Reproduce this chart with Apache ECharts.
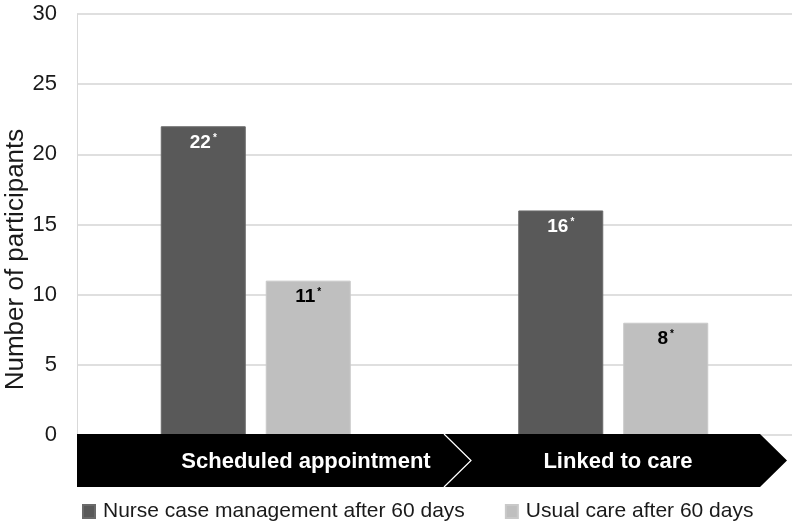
<!DOCTYPE html>
<html>
<head>
<meta charset="utf-8">
<script src="https://cdn.jsdelivr.net/npm/echarts@6/dist/echarts.min.js"></script>
<style>html,body{margin:0;padding:0;background:#fff;}#c{width:800px;height:528px;}</style>
</head>
<body>
<div id="c"></div>
<script>
const categories = ['Scheduled appointment', 'Linked to care'];
const seriesNames = ['Nurse case management after 60 days', 'Usual care after 60 days'];
const nurseValues = [22, 16];
const usualValues = [11, 8];
const yTicks = { min: 0, max: 30, interval: 5 };

const FONT = '"Liberation Sans", Arial, sans-serif';
const GRID = { left: 77, right: 8, top: 14, bottom: 93 };

const chart = echarts.init(document.getElementById('c'), null, { renderer: 'canvas' });

function labelCfg(color) {
  return {
    show: true,
    position: 'insideTop',
    distance: 7,
    formatter: '{v|{c}}{s|*}',
    rich: {
      v: { fontFamily: FONT, fontWeight: 'bold', fontSize: 19, color: color },
      s: { fontFamily: FONT, fontWeight: 'bold', fontSize: 10, color: color, verticalAlign: 'top', padding: [0, 0, 9, 2] }
    }
  };
}

chart.setOption({
  animation: false,
  textStyle: { fontFamily: FONT },
  grid: { left: GRID.left, right: GRID.right, top: GRID.top, bottom: GRID.bottom, containLabel: false, outerBoundsMode: 'none' },
  legend: {
    data: seriesNames,
    left: 77, top: 496,
    itemWidth: 12, itemHeight: 13, itemGap: 40,
    icon: 'rect',
    textStyle: { fontFamily: FONT, fontSize: 21, color: '#1a1a1a', padding: [0, 0, 0, 3] }
  },
  xAxis: {
    type: 'category',
    data: categories,
    axisLine: { show: false },
    axisTick: { show: false },
    axisLabel: { show: false }
  },
  yAxis: {
    type: 'value',
    min: yTicks.min, max: yTicks.max, interval: yTicks.interval,
    name: 'Number of participants',
    nameLocation: 'middle',
    nameGap: 48,
    nameMoveOverlap: false,
    nameTextStyle: { fontFamily: FONT, fontSize: 26, color: '#1a1a1a', padding: [0, 70, 0, 0] },
    axisLine: { show: true, lineStyle: { color: '#d9d9d9', width: 1 } },
    axisTick: { show: false },
    axisLabel: { fontFamily: FONT, fontSize: 22, color: '#1a1a1a', margin: 20 },
    splitLine: { lineStyle: { color: '#d4d4d4', width: 1.5 } }
  },
  series: [
    {
      name: seriesNames[0], type: 'bar', data: nurseValues,
      barWidth: 85, barGap: '23.5%',
      itemStyle: { color: '#595959', borderColor: '#6a6a6a', borderWidth: 1 },
      label: labelCfg('#ffffff')
    },
    {
      name: seriesNames[1], type: 'bar', data: usualValues,
      barWidth: 85,
      itemStyle: { color: '#bfbfbf', borderColor: '#c9c9c9', borderWidth: 1 },
      label: labelCfg('#000000')
    }
  ]
});

// Chevron band along the category axis, positioned from the grid coordinates
const y0 = chart.convertToPixel({ yAxisIndex: 0 }, 0);
const xL = GRID.left;
const xR = 800 - GRID.right;
const h = 53;
const yT = y0 - 1, yB = y0 - 1 + h, yM = (yT + yB) / 2;
const split = xL + 367;   // notch flat position
const tip = 27;
const end2 = xR - 32;
const c1 = [[xL, yT], [split, yT], [split + tip, yM], [split, yB], [xL, yB]];
const c2 = [[split, yT], [end2, yT], [end2 + tip, yM], [end2, yB], [split, yB], [split + tip, yM]];

chart.setOption({
  graphic: [
    { type: 'polygon', shape: { points: c2 }, style: { fill: '#000' }, z: 10 },
    { type: 'polygon', shape: { points: c1 }, style: { fill: '#000' }, z: 10 },
    { type: 'polyline', shape: { points: [[split, yT], [split + tip, yM], [split, yB]] }, style: { stroke: '#fff', lineWidth: 1.2, fill: null }, z: 11 },
    { type: 'text', x: xL + 229, y: yM + 1, z: 12,
      style: { text: categories[0], fill: '#fff', font: 'bold 22px ' + FONT, textAlign: 'center', textVerticalAlign: 'middle' } },
    { type: 'text', x: xL + 541, y: yM + 1, z: 12,
      style: { text: categories[1], fill: '#fff', font: 'bold 22px ' + FONT, textAlign: 'center', textVerticalAlign: 'middle' } }
  ]
});
</script>
</body>
</html>
